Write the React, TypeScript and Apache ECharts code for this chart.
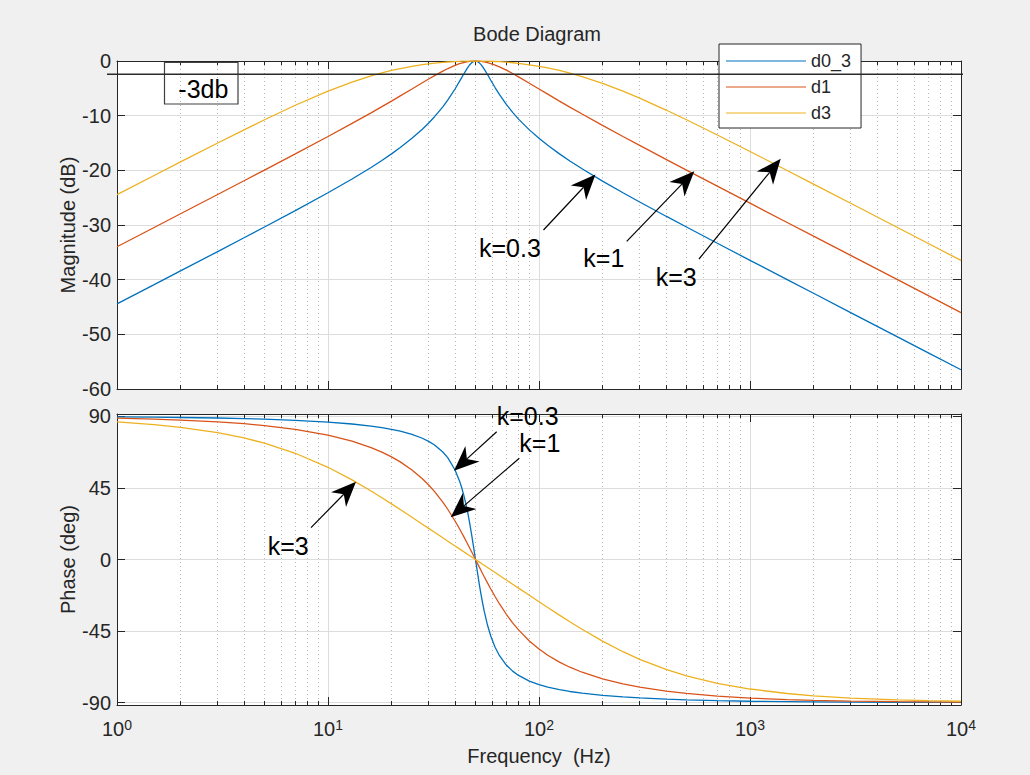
import React, { useEffect, useRef } from 'react';
import * as echarts from 'echarts';

// ---- data (frequency in Hz) ----
const freqHz = [1, 1.5, 2, 3, 4, 5, 7, 10, 13, 16, 18, 20, 22, 25, 28, 30, 32, 35, 37, 40, 42, 43, 44, 45, 46, 47, 48, 49, 50, 51, 52, 53, 54, 55, 57, 59, 62, 65, 70, 75, 80, 90, 100, 110, 125, 140, 160, 200, 250, 300, 400, 500, 700, 1000, 1500, 2000, 3000, 5000, 7000, 10000];

const magD0_3 = [-44.43, -40.91, -38.40, -34.86, -32.34, -30.37, -27.37, -24.10, -21.58, -19.47, -18.19, -16.99, -15.83, -14.15, -12.48, -11.35, -10.19, -8.39, -7.12, -5.12, -3.74, -3.05, -2.38, -1.75, -1.17, -0.68, -0.31, -0.08, 0, -0.08, -0.29, -0.61, -1.02, -1.48, -2.47, -3.48, -4.90, -6.16, -7.94, -9.40, -10.63, -12.60, -14.15, -15.42, -16.99, -18.28, -19.71, -21.97, -24.10, -25.79, -28.39, -30.37, -33.34, -36.46, -39.99, -42.49, -46.02, -50.46, -53.38, -56.48];
const magD1 = [-33.98, -30.45, -27.95, -24.42, -21.91, -19.96, -16.99, -13.81, -11.42, -9.48, -8.35, -7.33, -6.39, -5.12, -3.98, -3.30, -2.67, -1.85, -1.38, -0.80, -0.50, -0.38, -0.28, -0.19, -0.12, -0.07, -0.03, -0.01, 0, -0.01, -0.03, -0.06, -0.10, -0.16, -0.29, -0.46, -0.75, -1.08, -1.67, -2.29, -2.90, -4.06, -5.12, -6.07, -7.33, -8.43, -9.70, -11.78, -13.81, -15.44, -17.99, -19.96, -22.90, -26.01, -29.54, -32.04, -35.56, -40.00, -42.92, -46.02];
const magD3 = [-24.45, -20.94, -18.46, -15.00, -12.59, -10.75, -8.09, -5.51, -3.85, -2.73, -2.17, -1.73, -1.38, -0.97, -0.67, -0.52, -0.39, -0.25, -0.18, -0.10, -0.06, -0.04, -0.03, -0.02, -0.01, -0.01, 0, 0, 0, 0, 0, -0.01, -0.01, -0.02, -0.03, -0.05, -0.09, -0.13, -0.22, -0.32, -0.44, -0.69, -0.97, -1.27, -1.73, -2.21, -2.85, -4.09, -5.51, -6.80, -8.97, -10.75, -13.53, -16.55, -20.03, -22.52, -26.03, -30.46, -33.38, -36.48];

const phaseD0_3 = [89.66, 89.48, 89.31, 88.97, 88.62, 88.26, 87.55, 86.42, 85.22, 83.90, 82.93, 81.87, 80.70, 78.69, 76.25, 74.29, 71.99, 67.62, 63.86, 56.31, 49.44, 45.27, 40.52, 35.13, 29.10, 22.43, 15.23, 7.67, 0, -7.52, -14.66, -21.24, -27.18, -32.47, -41.22, -47.95, -55.32, -60.52, -66.37, -70.20, -72.90, -76.45, -78.69, -80.25, -81.87, -83.00, -84.07, -85.43, -86.42, -87.06, -87.82, -88.26, -88.77, -89.14, -89.43, -89.57, -89.71, -89.83, -89.88, -89.91];
const phaseD1 = [88.85, 88.28, 87.71, 86.55, 85.40, 84.23, 81.87, 78.23, 74.42, 70.38, 67.53, 64.54, 61.38, 56.31, 50.79, 46.85, 42.69, 36.08, 31.44, 24.23, 19.31, 16.85, 14.38, 11.92, 9.48, 7.06, 4.67, 2.31, 0, -2.27, -4.49, -6.65, -8.76, -10.81, -14.72, -18.39, -23.44, -27.96, -34.44, -39.81, -44.27, -51.22, -56.31, -60.19, -64.54, -67.74, -70.90, -75.07, -78.23, -80.27, -82.76, -84.23, -85.89, -87.13, -88.09, -88.57, -89.04, -89.43, -89.59, -89.71];
const phaseD3 = [86.57, 84.85, 83.15, 79.76, 76.42, 73.14, 66.81, 57.99, 50.09, 43.08, 38.87, 34.99, 31.42, 26.57, 22.22, 19.57, 17.09, 13.65, 11.52, 8.53, 6.66, 5.76, 4.88, 4.02, 3.19, 2.36, 1.56, 0.77, 0, -0.76, -1.50, -2.23, -2.94, -3.64, -5.01, -6.33, -8.22, -10.03, -12.88, -15.52, -18.00, -22.53, -26.57, -30.19, -34.99, -39.15, -43.90, -51.34, -57.99, -62.78, -69.15, -73.14, -77.85, -81.45, -84.28, -85.71, -87.14, -88.28, -88.77, -89.14];

const seriesNames = ['d0_3', 'd1', 'd3'];
const seriesColors = ['#0072BD', '#D95319', '#EDB120'];

const freqTicks = [1, 10, 100, 1000, 10000];
const freqTickExp = ['0', '1', '2', '3', '4'];
const magTicks = [0, -10, -20, -30, -40, -50, -60];
const phaseTicks = [-90, -45, 0, 45, 90];

const FONT = '"Liberation Sans", Arial, Helvetica, sans-serif';
const TXT = '#262626';

function pairs(vals: number[]) {
  return freqHz.map((f, i) => [f, vals[i]]);
}

function arrow(tail: number[], tip: number[]) {
  const L = 25, W = 21;
  const dx = tip[0] - tail[0], dy = tip[1] - tail[1];
  const len = Math.hypot(dx, dy);
  const ux = dx / len, uy = dy / len;
  const px = -uy, py = ux;
  const bx = tip[0] - ux * L, by = tip[1] - uy * L;
  const c1 = [bx + px * W / 2, by + py * W / 2];
  const c2 = [bx - px * W / 2, by - py * W / 2];
  const notch = [tip[0] - ux * L * 0.7, tip[1] - uy * L * 0.7];
  return [
    { type: 'line', z: 20, shape: { x1: tail[0], y1: tail[1], x2: notch[0], y2: notch[1] }, style: { stroke: '#000', lineWidth: 1.2 } },
    { type: 'polygon', z: 20, shape: { points: [tip, c1, notch, c2] }, style: { fill: '#000' } },
  ];
}

function label(text: string, x: number, y: number) {
  return { type: 'text', z: 20, x, y, style: { text, fontSize: 25, fontFamily: FONT, fill: '#000', align: 'left', verticalAlign: 'middle' } };
}

export default function App() {
  const ref = useRef<HTMLDivElement>(null);
  useEffect(() => {
    if (!ref.current) return;
    const chart = echarts.init(ref.current, undefined, { renderer: 'svg' });

    const xAxisFor = (gridIndex: number, position: string, showLabel: boolean, showGrid: boolean, name?: string) => ({
      type: 'log', logBase: 10, min: 1, max: 10000, gridIndex, position,
      name: name || '',
      nameLocation: 'middle', nameGap: 41, nameMoveOverlap: false,
      nameTextStyle: { fontSize: 20, color: TXT, fontFamily: FONT },
      axisLine: { show: true, onZero: false, lineStyle: { color: TXT, width: 1 } },
      axisTick: { show: true, inside: true, length: 8, lineStyle: { color: TXT } },
      minorTick: { show: true, splitNumber: 9, length: 4, lineStyle: { color: TXT } },
      axisLabel: showLabel ? {
        show: true, margin: 13,
        formatter: (v: number) => {
          const i = freqTicks.findIndex((t) => Math.abs(t - v) < 1e-6 * t);
          return i >= 0 ? `{b|10}{s|${freqTickExp[i]}}` : '';
        },
        rich: {
          b: { fontSize: 20, lineHeight: 22, fontFamily: FONT, color: TXT },
          s: { fontSize: 14, lineHeight: 14, verticalAlign: 'top', fontFamily: FONT, color: TXT },
        },
      } : { show: false },
      splitLine: { show: showGrid, lineStyle: { color: '#dcdcdc', width: 1 } },
      minorSplitLine: { show: showGrid, lineStyle: { color: '#b8b8b8', width: 1, type: [1, 3] } },
    });

    const yLeft = (gridIndex: number, min: number, max: number, ticks: number[], name: string, interval?: number) => ({
      type: 'value', gridIndex, position: 'left', min, max,
      ...(interval ? { interval } : {}),
      name, nameLocation: 'middle', nameGap: 39, nameMoveOverlap: false,
      nameTextStyle: { fontSize: 20, color: TXT, fontFamily: FONT },
      axisLine: { show: true, onZero: false, lineStyle: { color: TXT, width: 1 } },
      axisTick: { show: true, inside: true, length: 8, lineStyle: { color: TXT }, ...(interval ? {} : { customValues: ticks }) },
      axisLabel: { show: true, margin: 6, fontSize: 20, color: TXT, fontFamily: FONT, ...(interval ? {} : { customValues: ticks }) },
      splitLine: { show: true, lineStyle: { color: '#dcdcdc', width: 1 } },
    });
    const yRight = (gridIndex: number, min: number, max: number, ticks: number[], interval?: number) => ({
      type: 'value', gridIndex, position: 'right', min, max,
      ...(interval ? { interval } : {}),
      axisLine: { show: true, onZero: false, lineStyle: { color: TXT, width: 1 } },
      axisTick: { show: true, inside: true, length: 8, lineStyle: { color: TXT }, ...(interval ? {} : { customValues: ticks }) },
      axisLabel: { show: false },
      splitLine: { show: false },
    });

    const magSets = [magD0_3, magD1, magD3];
    const phaseSets = [phaseD0_3, phaseD1, phaseD3];
    const series: any[] = [];
    magSets.forEach((vals, i) => series.push({
      name: seriesNames[i], type: 'line', xAxisIndex: 0, yAxisIndex: 0, data: pairs(vals),
      symbol: 'none', showSymbol: false, color: seriesColors[i],
      lineStyle: { color: seriesColors[i], width: 1.3 }, z: 3,
    }));
    phaseSets.forEach((vals, i) => series.push({
      name: seriesNames[i], type: 'line', xAxisIndex: 2, yAxisIndex: 2, data: pairs(vals),
      symbol: 'none', showSymbol: false, color: seriesColors[i],
      lineStyle: { color: seriesColors[i], width: 1.3 }, z: 3,
    }));

    const graphic: any[] = [
      { type: 'rect', z: 15, shape: { x: 164.5, y: 62.5, width: 73.5, height: 41.5 }, style: { fill: 'none', stroke: '#404040', lineWidth: 1.2 } },
      { type: 'text', z: 20, x: 178.3, y: 89, style: { text: '-3db', fontSize: 25, fontFamily: FONT, fill: '#000', align: 'left', verticalAlign: 'middle' } },
      { type: 'line', z: 20, shape: { x1: 107, y1: 74.3, x2: 963, y2: 74.3 }, style: { stroke: '#2a2a2a', lineWidth: 1.5 } },
      ...arrow([543.5, 230], [595.5, 174.5]),
      ...arrow([626.7, 241.3], [694.3, 171.3]),
      ...arrow([699, 259], [780.7, 158.7]),
      ...arrow([496.7, 431.7], [454, 470.7]),
      ...arrow([519.3, 458.3], [450.7, 517.3]),
      ...arrow([311, 527.7], [356, 481.7]),
      label('k=0.3', 479, 248),
      label('k=1', 583.3, 258),
      label('k=3', 655.7, 277.3),
      label('k=0.3', 496.7, 416),
      label('k=1', 519.3, 442.5),
      label('k=3', 267.7, 545.5),
    ];

    chart.setOption({
      animation: false,
      backgroundColor: '#f0f0f0',
      title: {
        text: 'Bode Diagram', left: 537, top: 24, textAlign: 'center', padding: 0,
        textStyle: { fontSize: 20, fontWeight: 'normal', color: TXT, fontFamily: FONT },
      },
      legend: {
        data: seriesNames, orient: 'vertical', left: 719, top: 44,
        padding: [4, 10, 2, 7], itemWidth: 80, itemHeight: 1, itemGap: 0, icon: 'rect',
        backgroundColor: '#fff', borderColor: TXT, borderWidth: 1, borderRadius: 0,
        textStyle: { fontSize: 18, lineHeight: 26, color: TXT, fontFamily: FONT },
        selectedMode: false, z: 10,
      },
      grid: [
        { left: 117, top: 61, width: 844, height: 328, show: true, backgroundColor: '#fff', borderWidth: 0 },
        { left: 117, top: 414, width: 844, height: 291, show: true, backgroundColor: '#fff', borderWidth: 0 },
      ],
      xAxis: [
        xAxisFor(0, 'bottom', false, true),
        xAxisFor(0, 'top', false, false),
        xAxisFor(1, 'bottom', true, true, 'Frequency  (Hz)'),
        xAxisFor(1, 'top', false, false),
      ],
      yAxis: [
        yLeft(0, -60, 0, magTicks, 'Magnitude (dB)', 10),
        yRight(0, -60, 0, magTicks, 10),
        yLeft(1, -91.5, 91.5, phaseTicks, 'Phase (deg)'),
        yRight(1, -91.5, 91.5, phaseTicks),
      ],
      series,
      graphic,
    });
    return () => chart.dispose();
  }, []);
  return <div ref={ref} style={{ position: 'absolute', left: 0, top: 0, width: 1030, height: 775 }} />;
}
